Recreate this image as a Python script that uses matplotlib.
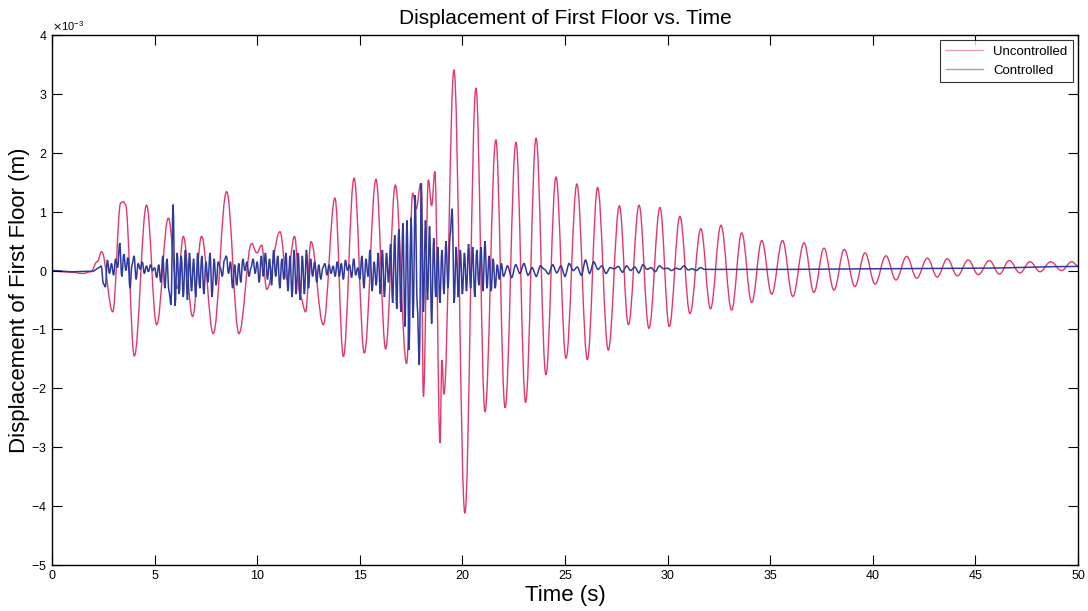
import numpy as np
import matplotlib
matplotlib.use("Agg")
import matplotlib.pyplot as plt
from matplotlib.ticker import ScalarFormatter
from matplotlib.path import Path
from matplotlib.patches import PathPatch
from matplotlib.lines import Line2D

# ---------------- data (displacement in units of 1e-3 m) ----------------
unc_t = [0.0, 0.5, 1.0, 1.5, 1.9, 2.2, 2.42, 2.96, 3.35, 3.48, 3.58, 4.01, 4.61, 5.10, 5.67,
         6.10, 6.40, 6.85, 7.29, 7.86, 8.51, 9.11, 9.73, 9.98, 10.22, 10.46, 11.11, 11.45,
         11.82, 12.10, 12.36, 12.62, 13.22, 13.79, 14.20, 14.72, 15.22, 15.79, 16.26, 16.73,
         17.28, 17.58, 17.75, 17.97, 18.10, 18.34, 18.50, 18.66, 18.91, 19.00, 19.10, 19.59,
         20.12, 20.66, 21.10, 21.63, 22.08, 22.61, 23.08, 23.59, 24.07, 24.56, 25.05, 25.58,
         26.09, 26.59, 27.11, 27.65, 28.09, 28.61, 29.09, 29.63, 30.08, 30.60, 31.09, 31.62,
         32.09, 32.60, 33.12, 33.61, 34.10, 34.59, 35.07, 35.60, 36.10, 36.65, 37.13, 37.62,
         38.11, 38.61, 39.13, 39.62, 40.11, 40.64, 41.13, 41.65, 42.14, 42.66, 43.14, 43.63,
         44.12, 44.65, 45.14, 45.68, 46.17, 46.65, 47.17, 47.66, 48.15, 48.67, 49.20, 49.69,
         50.0]
unc_v = [0.0, -0.02, -0.03, -0.05, -0.02, 0.15, 0.32, -0.70, 1.15, 1.17, 1.12, -1.45, 1.11,
         -0.92, 0.89, -0.30, 0.58, -0.78, 0.58, -1.07, 1.34, -1.07, 0.46, 0.30, 0.43, -0.32,
         0.66, -0.15, 0.58, -0.44, -0.70, 0.49, -0.92, 1.23, -1.46, 1.57, -1.40, 1.55, -1.33,
         1.45, -1.58, 1.31, 1.05, 1.48, -2.14, 1.54, 1.10, 1.68, -2.93, -1.52, -2.10, 3.41,
         -4.12, 3.10, -2.40, 2.22, -2.33, 2.18, -2.24, 2.25, -1.77, 1.59, -1.49, 1.47, -1.51,
         1.41, -1.35, 1.10, -0.92, 1.11, -0.98, 1.07, -0.95, 0.92, -0.73, 0.71, -0.65, 0.77,
         -0.67, 0.64, -0.54, 0.51, -0.40, 0.51, -0.44, 0.47, -0.37, 0.38, -0.33, 0.36, -0.27,
         0.30, -0.23, 0.25, -0.16, 0.24, -0.13, 0.21, -0.11, 0.20, -0.09, 0.18, -0.07, 0.17,
         -0.06, 0.17, -0.04, 0.15, -0.02, 0.15, 0.00, 0.15, 0.08]

# controlled: quiet start, dense part sampled every 0.1 s (2.4 s .. 22.0 s),
# then every 0.2 s (22.2 s .. 32.0 s), then a quiet tail
ctl_start_t = [0.0, 1.0, 2.0, 2.3]
ctl_start_v = [0.0, -0.02, -0.01, 0.05]
ctl_dense_v = [
    0.08, -0.22, -0.28, 0.18, -0.05, 0.12,
    -0.08, 0.20, 0.05, 0.47, -0.10, 0.28, 0.00, 0.22, -0.30, 0.10,
    0.25, -0.15, 0.12, 0.02, 0.15, -0.05, 0.08, -0.02, 0.10, 0.00,
    0.05, -0.12, 0.10, -0.20, 0.25, -0.30, 0.20, -0.35, -0.58, 1.12,
    -0.60, 0.30, -0.40, 0.25, -0.45, 0.35, -0.50, 0.30, -0.35, 0.20,
    -0.45, 0.30, -0.30, 0.25, -0.40, 0.15, -0.20, 0.30, -0.45, 0.20,
    -0.25, 0.15, 0.05, -0.10, 0.18, 0.25, -0.05, 0.15, -0.30, 0.10,
    -0.25, 0.12, -0.20, 0.20, 0.00, 0.15, -0.10, 0.05, 0.20, -0.05,
    0.15, -0.20, 0.25, -0.10, 0.30, -0.15, 0.20, -0.25, 0.35, -0.10,
    0.25, -0.30, 0.20, -0.15, 0.30, -0.35, 0.25, -0.45, 0.35, -0.40,
    0.30, -0.50, 0.25, -0.40, 0.35, -0.30, 0.20, -0.10, 0.15, -0.20,
    0.10, -0.15, 0.05, 0.12, -0.08, 0.10, -0.05, 0.08, -0.10, 0.15,
    -0.10, 0.12, -0.15, 0.18, 0.00, 0.10, -0.12, 0.20, -0.08, 0.05,
    -0.15, 0.25, -0.30, 0.20, -0.10, 0.35, -0.35, 0.15, -0.25, 0.30,
    -0.40, 0.35, -0.45, 0.30, -0.20, 0.45, -0.55, 0.60, -0.65, 0.70,
    -0.70, 0.80, -0.95, 0.85, -1.35, 0.90, -0.80, 1.28, -0.60, -1.60,
    1.48, -0.70, 0.85, -0.50, 0.75, -0.90, 0.55, -0.45, 0.40, -0.55,
    0.35, -0.40, 0.50, -0.30, 0.60, 1.05, -0.55, 0.40, -0.45, 0.35,
    -0.40, 0.30, -0.35, 0.45, -0.30, 0.40, -0.45, 0.35, -0.25, 0.40,
    -0.35, 0.50, -0.30, 0.25, -0.35, 0.20, -0.30, 0.10, -0.15, 0.12,
    -0.10]
ctl_sparse_v = [
    0.08, -0.12, 0.10, -0.05, 0.12, -0.08, 0.05, -0.10, 0.08, 0.02,
    -0.06, 0.10, -0.04, 0.08, -0.10, 0.12, 0.00, 0.06, -0.08, 0.18,
    -0.05, 0.15, 0.02, 0.08, -0.05, 0.05, 0.03, 0.07, -0.03, 0.08,
    0.00, 0.06, -0.04, 0.10, 0.02, 0.05, -0.02, 0.08, 0.03, 0.04,
    0.00, 0.04, 0.02, 0.08, 0.01, 0.03, 0.00, 0.05, 0.02, 0.02]
ctl_tail_t = [33.0, 36.0, 40.0, 45.0, 50.0]
ctl_tail_v = [0.02, 0.02, 0.03, 0.04, 0.07]

scale = 1e-3
x_ticks = [0, 5, 10, 15, 20, 25, 30, 35, 40, 45, 50]
y_ticks = [-5, -4, -3, -2, -1, 0, 1, 2, 3, 4]

UNC_COLOR = '#e2386a'
CTL_COLOR = '#2f3a9c'

# ---------------- assemble ----------------
dense_t = 2.4 + 0.1 * np.arange(len(ctl_dense_v))
sparse_t = 22.2 + 0.2 * np.arange(len(ctl_sparse_v))
ctl_t = np.concatenate([ctl_start_t, dense_t, sparse_t, ctl_tail_t])
ctl_v = np.concatenate([ctl_start_v, ctl_dense_v, ctl_sparse_v, ctl_tail_v])


def smooth_path(t, v, k=0.38):
    """Path through the read extrema, drawn with flat tangents at each point
    (cubic Bezier segments) so the trace looks like the smooth original."""
    t = np.asarray(t, float)
    v = np.asarray(v, float)
    verts = [(t[0], v[0])]
    codes = [Path.MOVETO]
    for i in range(len(t) - 1):
        dt = t[i + 1] - t[i]
        verts += [(t[i] + k * dt, v[i]), (t[i + 1] - k * dt, v[i + 1]), (t[i + 1], v[i + 1])]
        codes += [Path.CURVE4] * 3
    return Path(verts, codes)


plt.rcParams['font.family'] = ['Liberation Sans Narrow', 'Liberation Sans', 'DejaVu Sans']

fig = plt.figure(figsize=(10.88, 6.11), dpi=100)
ax = fig.add_axes([52 / 1088, 1 - 565 / 611, 1026 / 1088, 530 / 611])

ax.add_patch(PathPatch(smooth_path(unc_t, np.array(unc_v) * scale), fill=False,
                       edgecolor=UNC_COLOR, lw=1.0))
ax.add_patch(PathPatch(smooth_path(ctl_t, ctl_v * scale, k=0.3), fill=False,
                       edgecolor=CTL_COLOR, lw=1.1))

ax.set_xlim(0, 50)
ax.set_ylim(-5e-3, 4e-3)
ax.set_xticks(x_ticks)
ax.set_yticks([v * scale for v in y_ticks])
fmt = ScalarFormatter(useMathText=True)
fmt.set_powerlimits((-3, -3))
ax.yaxis.set_major_formatter(fmt)
ax.yaxis.get_offset_text().set_fontsize(8)

ax.tick_params(direction='in', top=True, right=True, labelsize=9, length=7, width=0.8)
for s in ax.spines.values():
    s.set_linewidth(1.0)

ax.set_title('Displacement of First Floor vs. Time', fontsize=15, pad=8)
ax.set_xlabel('Time (s)', fontsize=16, labelpad=2)
ax.set_ylabel('Displacement of First Floor (m)', fontsize=16, labelpad=1)

handles = [Line2D([], [], color='#f0a0b8', lw=1.0), Line2D([], [], color='#9aa0d8', lw=1.0)]
leg = ax.legend(handles, ['Uncontrolled', 'Controlled'], loc='upper right', fontsize=9.5,
                frameon=True, fancybox=False, edgecolor='black', borderaxespad=0.4,
                handlelength=2.8)
leg.get_frame().set_linewidth(0.8)

fig.savefig('out.png', dpi=100)
